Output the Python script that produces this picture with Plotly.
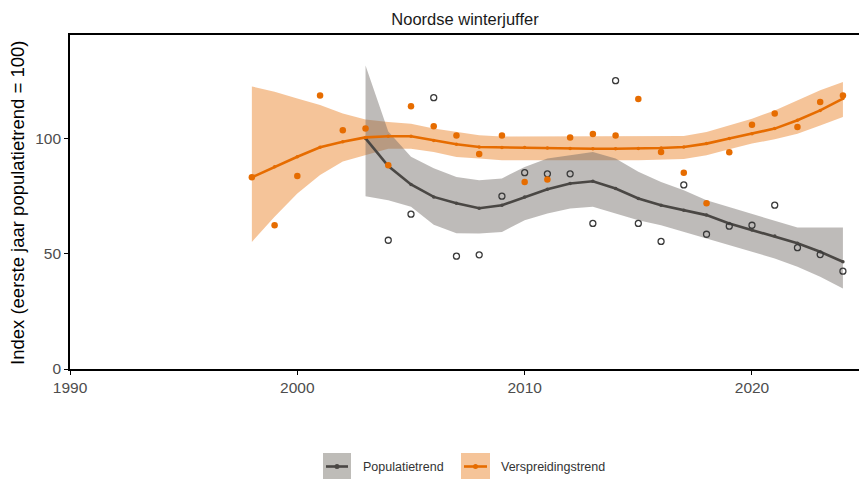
import plotly.graph_objects as go

# ---------------- data ----------------
title_text = "Noordse winterjuffer"
y_title = "Index (eerste jaar populatietrend = 100)"
legend_labels = ["Populatietrend", "Verspreidingstrend"]
x_ticks = [1990, 2000, 2010, 2020]
y_ticks = [0, 50, 100]

years_v = list(range(1998, 2025))
vers_index = [83.1, 62.3, 83.7, 118.6, 103.5, 104.2, 88.3, 113.9, 105.2, 101.2,
              93.2, 101.2, 81.1, 82.1, 100.3, 101.9, 101.2, 117.0, 94.1, 85.1,
              71.8, 93.9, 105.9, 110.7, 104.9, 115.7, 118.6]
vers_trend = [83.1, 87.7, 92.0, 96.1, 98.5, 100.4, 100.9, 100.9, 99.1, 97.4,
              96.2, 96.0, 96.0, 95.8, 95.6, 95.5, 95.5, 95.6, 95.8, 96.2,
              97.7, 99.9, 102.0, 104.2, 107.8, 112.1, 117.2]
vers_upper = [122.5, 120.2, 117.3, 114.4, 110.8, 108.2, 107.1, 106.3, 104.2, 102.7,
              101.3, 100.8, 100.8, 100.8, 101.0, 101.0, 100.8, 100.8, 100.8, 101.0,
              102.7, 105.6, 108.5, 112.1, 116.5, 120.8, 124.4]
vers_lower = [55.1, 66.0, 76.1, 84.1, 89.9, 92.8, 95.5, 95.5, 94.1, 91.9,
              91.2, 90.5, 90.5, 90.5, 90.5, 90.5, 90.5, 90.5, 90.6, 91.0,
              92.6, 95.3, 97.7, 99.6, 102.0, 105.6, 109.2]

years_p = list(range(2003, 2025))
pop_trend = [100.0, 88.0, 80.0, 74.6, 71.8, 69.7, 71.0, 74.6, 77.9, 80.4,
             81.4, 78.2, 73.9, 71.0, 68.8, 66.7, 63.1, 60.2, 57.6, 54.5,
             50.8, 46.5]
pop_upper = [131.6, 103.0, 92.0, 87.0, 83.2, 81.8, 82.6, 87.6, 91.2, 92.6,
             94.1, 91.2, 85.5, 81.1, 77.5, 73.2, 70.3, 67.4, 64.2, 61.3,
             61.3, 61.3]
pop_lower = [74.9, 73.2, 70.3, 62.5, 58.8, 58.7, 59.4, 64.5, 67.4, 69.6,
             70.3, 67.4, 64.5, 62.3, 59.4, 56.6, 53.7, 50.8, 47.9, 44.3,
             40.0, 34.9]

years_p_idx = list(range(2004, 2025))
pop_index = [55.8, 67.1, 117.6, 48.9, 49.5, 74.9, 85.1, 84.6, 84.6,
             63.1, 125.0, 63.1, 55.3, 79.8, 58.4, 61.9, 62.3, 71.0, 52.6,
             49.6, 42.4]

# ---------------- styles ----------------
ORANGE = "#E66C00"
ORANGE_FILL = "rgba(230,108,0,0.40)"
GRAY = "#4A4744"
GRAY_FILL = "rgba(110,105,100,0.45)"
FONT = "Liberation Sans, Arial, sans-serif"

fig = go.Figure()

# ribbons
fig.add_trace(go.Scatter(
    x=years_v + years_v[::-1], y=vers_upper + vers_lower[::-1],
    fill="toself", fillcolor=ORANGE_FILL, line=dict(width=0),
    mode="lines", hoverinfo="skip", showlegend=False))
fig.add_trace(go.Scatter(
    x=years_p + years_p[::-1], y=pop_upper + pop_lower[::-1],
    fill="toself", fillcolor=GRAY_FILL, line=dict(width=0),
    mode="lines", hoverinfo="skip", showlegend=False))

# trend lines
fig.add_trace(go.Scatter(
    x=years_p, y=pop_trend, mode="lines+markers",
    line=dict(color=GRAY, width=2.6), marker=dict(color=GRAY, size=3.5),
    name=legend_labels[0], showlegend=False))
fig.add_trace(go.Scatter(
    x=years_v, y=vers_trend, mode="lines+markers",
    line=dict(color=ORANGE, width=2.6), marker=dict(color=ORANGE, size=3.5),
    name=legend_labels[1], showlegend=False))

# index points
fig.add_trace(go.Scatter(
    x=years_p_idx, y=pop_index, mode="markers",
    marker=dict(symbol="circle-open", color="#3a3a3a", size=6,
                line=dict(width=1.3, color="#3a3a3a")),
    showlegend=False))
fig.add_trace(go.Scatter(
    x=years_v, y=vers_index, mode="markers",
    marker=dict(symbol="circle", color=ORANGE, size=6.5),
    showlegend=False))

# ---------------- layout ----------------
L, R, T, B = 70, 0, 35, 110
W, H = 859, 479
PW, PH = W - L - R, H - T - B


def px_x(px):
    return (px - L) / PW


def px_y(py):
    return (H - B - py) / PH


fig.update_layout(
    width=W, height=H,
    margin=dict(l=L, r=R, t=T, b=B),
    paper_bgcolor="white", plot_bgcolor="white",
    font=dict(family=FONT),
    showlegend=False,
    title=dict(text=title_text, x=465 / W, xanchor="center",
               y=1 - 19 / H, yanchor="middle",
               font=dict(size=16.5, color="#1a1a1a", family=FONT)),
)

fig.update_xaxes(
    range=[1990, 1990 + (W - L - R) / 22.733],
    tickvals=x_ticks, ticktext=[str(v) for v in x_ticks],
    showgrid=False, zeroline=False,
    showline=True, linecolor="black", linewidth=1.6, mirror=True,
    ticks="outside", ticklen=4, tickwidth=1.3, tickcolor="black",
    tickfont=dict(size=15.5, color="#4d4d4d", family=FONT),
)
fig.update_yaxes(
    range=[0, (H - B - T) / 2.307],
    tickvals=y_ticks, ticktext=[str(v) for v in y_ticks],
    showgrid=False, zeroline=False,
    showline=True, linecolor="black", linewidth=1.6,
    ticks="outside", ticklen=4, tickwidth=1.3, tickcolor="black",
    tickfont=dict(size=15.5, color="#4d4d4d", family=FONT),
)

annotations = [
    dict(text=y_title, xref="paper", yref="paper", x=px_x(17), y=px_y(203),
         textangle=-90, showarrow=False, xanchor="center", yanchor="middle",
         font=dict(size=18.5, color="black", family=FONT)),
]

# manual legend (keys with box + line + point)
shapes = []
legend_items = [
    (legend_labels[0], 323, 351, 361, "rgba(190,188,184,1)", GRAY),
    (legend_labels[1], 461, 490, 499, "rgba(245,196,153,1)", ORANGE),
]
ly0, ly1, lyc = 453, 479, 466.5
for label, bx0, bx1, tx, fillc, linec in legend_items:
    shapes.append(dict(type="rect", xref="paper", yref="paper",
                       x0=px_x(bx0), x1=px_x(bx1), y0=px_y(ly1), y1=px_y(ly0),
                       fillcolor=fillc, line=dict(width=0), layer="above"))
    shapes.append(dict(type="line", xref="paper", yref="paper",
                       x0=px_x(bx0 + 3), x1=px_x(bx1 - 3), y0=px_y(lyc), y1=px_y(lyc),
                       line=dict(color=linec, width=2.6), layer="above"))
    cx = (bx0 + bx1) / 2
    shapes.append(dict(type="circle", xref="paper", yref="paper",
                       x0=px_x(cx - 2.5), x1=px_x(cx + 2.5),
                       y0=px_y(lyc + 2.5), y1=px_y(lyc - 2.5),
                       fillcolor=linec, line=dict(width=0), layer="above"))
    annotations.append(dict(text=label, xref="paper", yref="paper",
                            x=px_x(tx), y=px_y(lyc), xanchor="left", yanchor="middle",
                            showarrow=False,
                            font=dict(size=12.5, color="#333333", family=FONT)))

fig.update_layout(annotations=annotations, shapes=shapes)

fig.write_html("out.html",
               config={"displayModeBar": False},
               post_script="document.body.style.margin='0';document.body.style.overflow='hidden';")
